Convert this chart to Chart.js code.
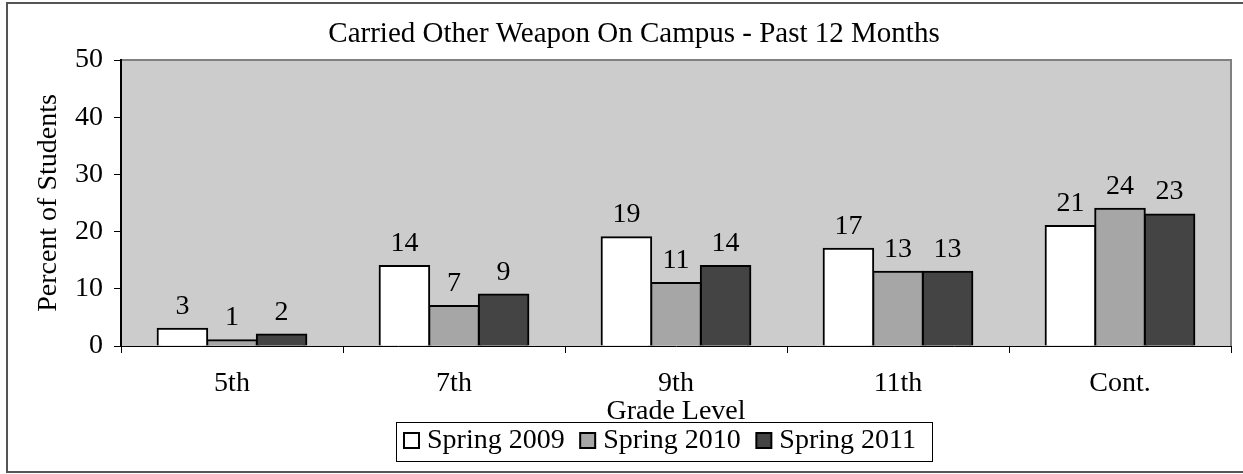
<!DOCTYPE html>
<html>
<head>
<meta charset="utf-8">
<script src="https://cdn.jsdelivr.net/npm/chart.js@4.4.0/dist/chart.umd.min.js"></script>
<style>
  html, body { margin: 0; padding: 0; background: #fff; }
  canvas { display: block; }
</style>
</head>
<body>
<canvas id="weapon-chart" width="1243" height="474"></canvas>
<script>
// data
var categories = ['5th', '7th', '9th', '11th', 'Cont.'];
var seriesNames = ['Spring 2009', 'Spring 2010', 'Spring 2011'];
var spring2009 = [3, 14, 19, 17, 21];
var spring2010 = [1, 7, 11, 13, 24];
var spring2011 = [2, 9, 14, 13, 23];
var yTickValues = [0, 10, 20, 30, 40, 50];

var barColors = ['#ffffff', '#a6a6a6', '#444444'];
var FONT = 'Liberation Serif';

Chart.defaults.font.family = FONT;
Chart.defaults.color = '#000';

// extra drawing: background, borders, title, value labels, legend
var extras = {
    id: 'extras',
    beforeDraw: function(chart) {
        var ctx = chart.ctx;
        var a = chart.chartArea;
        ctx.save();
        ctx.fillStyle = '#ffffff';
        ctx.fillRect(0, 0, chart.width, chart.height);
        // plot area
        ctx.fillStyle = '#cccccc';
        ctx.fillRect(a.left, a.top, a.right - a.left, a.bottom - a.top);
        ctx.strokeStyle = '#808080';
        ctx.lineWidth = 2;
        ctx.beginPath();
        ctx.moveTo(a.left, a.top);
        ctx.lineTo(a.right, a.top);
        ctx.lineTo(a.right, a.bottom);
        ctx.stroke();
        // outer frame (right side runs off the picture)
        ctx.strokeStyle = '#555555';
        ctx.lineWidth = 2;
        ctx.strokeRect(7, 3, chart.width + 10, 469);
        // title
        ctx.fillStyle = '#000';
        ctx.font = '29px "' + FONT + '"';
        ctx.textAlign = 'center';
        ctx.textBaseline = 'alphabetic';
        ctx.fillText('Carried Other Weapon On Campus - Past 12 Months', 634, 42);
        ctx.restore();
    },
    afterDatasetsDraw: function(chart) {
        var ctx = chart.ctx;
        ctx.save();
        ctx.fillStyle = '#000';
        ctx.font = '28px "' + FONT + '"';
        ctx.textAlign = 'center';
        ctx.textBaseline = 'alphabetic';
        chart.data.datasets.forEach(function(ds, i) {
            var meta = chart.getDatasetMeta(i);
            meta.data.forEach(function(bar, j) {
                ctx.fillText(String(ds.data[j]), bar.x, bar.y - 15);
            });
        });
        ctx.restore();
    },
    afterDraw: function(chart) {
        var ctx = chart.ctx;
        ctx.save();
        ctx.font = '28px "' + FONT + '"';
        // legend box
        var boxLeft = 396, boxTop = 422, boxRight = 932, boxBottom = 461;
        ctx.fillStyle = '#fff';
        ctx.fillRect(boxLeft, boxTop, boxRight - boxLeft, boxBottom - boxTop);
        ctx.strokeStyle = '#000';
        ctx.lineWidth = 1;
        ctx.strokeRect(boxLeft + 0.5, boxTop + 0.5, boxRight - boxLeft, boxBottom - boxTop);

        var x = 404;
        chart.data.datasets.forEach(function(ds) {
            ctx.fillStyle = ds.backgroundColor;
            ctx.fillRect(x, 433, 15, 15);
            ctx.strokeStyle = '#000';
            ctx.lineWidth = 2;
            ctx.strokeRect(x, 433, 15, 15);
            ctx.fillStyle = '#000';
            ctx.textAlign = 'left';
            ctx.textBaseline = 'alphabetic';
            ctx.fillText(ds.label, x + 23, 448);
            x += 23 + ctx.measureText(ds.label).width + 15.5;
        });
        ctx.restore();
    }
};

var ctx = document.getElementById('weapon-chart').getContext('2d');
var weaponChart = new Chart(ctx, {
    type: 'bar',
    data: {
        labels: categories,
        datasets: [
            { label: seriesNames[0], data: spring2009, backgroundColor: barColors[0] },
            { label: seriesNames[1], data: spring2010, backgroundColor: barColors[1] },
            { label: seriesNames[2], data: spring2011, backgroundColor: barColors[2] }
        ].map(function(d) {
            d.borderColor = '#000';
            d.borderWidth = 2;
            d.inflateAmount = 1; // borders sit on the bar edge, neighbours share one line
            d.barPercentage = 1.0;
            d.categoryPercentage = 0.67;
            return d;
        })
    },
    options: {
        responsive: false,
        animation: false,
        devicePixelRatio: 1,
        layout: {
            padding: { left: 0, top: 60, right: 12, bottom: 0 }
        },
        plugins: {
            legend: { display: false },
            title: { display: false },
            tooltip: { enabled: false }
        },
        scales: {
            x: {
                offset: true,
                grid: {
                    offset: true,
                    drawOnChartArea: false,
                    drawTicks: true,
                    tickLength: 7,
                    tickColor: '#000',
                    tickWidth: 1
                },
                border: { display: true, color: '#000', width: 1 },
                ticks: {
                    font: { size: 28 },
                    color: '#000',
                    padding: 14,
                    maxRotation: 0
                },
                title: {
                    display: true,
                    text: 'Grade Level',
                    font: { size: 28 },
                    color: '#000',
                    padding: { top: 0, bottom: 46 }
                },
                afterFit: function(scale) { scale.height = 128; }
            },
            y: {
                min: yTickValues[0],
                max: yTickValues[yTickValues.length - 1],
                afterBuildTicks: function(scale) {
                    scale.ticks = yTickValues.map(function(v) { return { value: v }; });
                },
                grid: {
                    drawOnChartArea: false,
                    drawTicks: true,
                    tickLength: 7,
                    tickColor: '#000',
                    tickWidth: 1
                },
                border: { display: true, color: '#000', width: 2 },
                ticks: {
                    font: { size: 28 },
                    color: '#000',
                    padding: 11
                },
                title: {
                    display: true,
                    text: 'Percent of Students',
                    font: { size: 28 },
                    color: '#000',
                    padding: { top: 32, bottom: 0 }
                },
                afterFit: function(scale) { scale.width = 121; }
            }
        }
    },
    plugins: [extras]
});
</script>
</body>
</html>
